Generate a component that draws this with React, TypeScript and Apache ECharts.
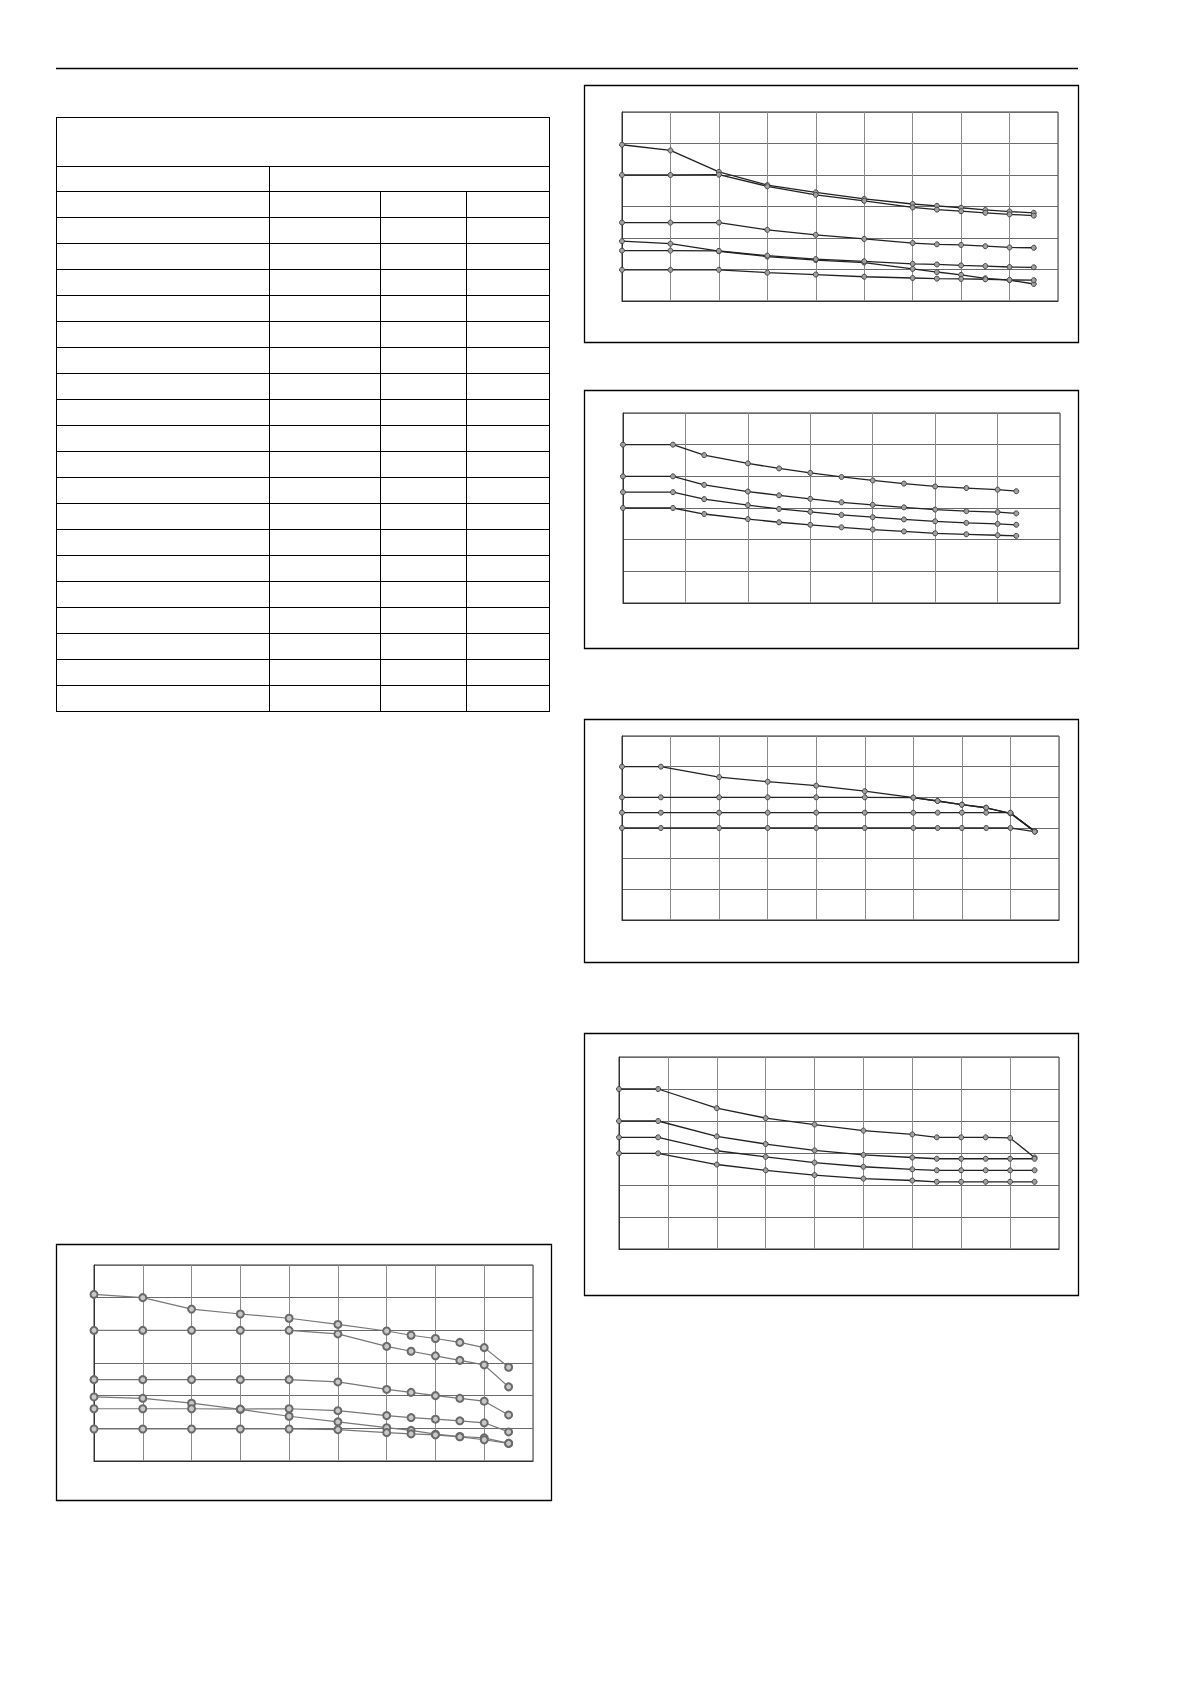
import { useEffect, useRef } from 'react';
import * as echarts from 'echarts';

// x positions (in grid units) of the measured points of each chart
const xTop = [0, 1, 2, 3, 4, 5, 6, 6.5, 7, 7.5, 8, 8.5];
const xSecond = [0, 0.8, 1.3, 2, 2.5, 3, 3.5, 4, 4.5, 5, 5.5, 6, 6.3];
const xThird = [0, 0.8, 2, 3, 4, 5, 6, 6.5, 7, 7.5, 8, 8.5];
const xFourth = [0, 0.8, 2, 3, 4, 5, 6, 6.5, 7, 7.5, 8, 8.5];
const xBottom = [0, 1, 2, 3, 4, 5, 6, 6.5, 7, 7.5, 8, 8.5];

// chart 1 (top right)
const top1 = [4.96, 4.78, 4.1, 3.68, 3.45, 3.24, 3.08, 3.02, 2.96, 2.89, 2.84, 2.8];
const top2 = [4.0, 4.0, 4.01, 3.64, 3.37, 3.18, 2.97, 2.9, 2.85, 2.8, 2.75, 2.71];
const top3 = [2.49, 2.49, 2.49, 2.26, 2.1, 1.97, 1.84, 1.8, 1.78, 1.74, 1.7, 1.69];
const top4 = [1.9, 1.82, 1.58, 1.41, 1.3, 1.22, 1.02, 0.92, 0.83, 0.72, 0.66, 0.54];
const top5 = [1.6, 1.6, 1.59, 1.44, 1.33, 1.26, 1.18, 1.16, 1.13, 1.11, 1.08, 1.07];
const top6 = [0.99, 0.99, 0.99, 0.9, 0.84, 0.77, 0.73, 0.71, 0.7, 0.69, 0.67, 0.66];

// chart 2
const second1 = [5.0, 5.0, 4.67, 4.41, 4.25, 4.11, 3.98, 3.87, 3.77, 3.68, 3.63, 3.58, 3.53];
const second2 = [4.0, 4.0, 3.73, 3.52, 3.4, 3.29, 3.18, 3.1, 3.02, 2.95, 2.9, 2.87, 2.83];
const second3 = [3.5, 3.5, 3.28, 3.09, 2.97, 2.88, 2.78, 2.71, 2.64, 2.58, 2.53, 2.5, 2.47];
const second4 = [3.0, 3.0, 2.81, 2.65, 2.55, 2.47, 2.39, 2.32, 2.26, 2.2, 2.17, 2.14, 2.12];

// chart 3
const third1 = [5.0, 5.0, 4.66, 4.51, 4.38, 4.2, 3.99, 3.88, 3.76, 3.66, 3.48, 2.89];
const third2 = [4.0, 4.0, 4.0, 4.0, 4.0, 4.0, 3.99, 3.88, 3.76, 3.66, 3.48, 2.89];
const third3 = [3.5, 3.5, 3.5, 3.5, 3.5, 3.5, 3.5, 3.5, 3.5, 3.5, 3.5, 2.89];
const third4 = [3.0, 3.0, 3.0, 3.0, 3.0, 3.0, 3.0, 3.0, 3.0, 3.0, 3.0, 2.88];

// chart 4
const fourth1 = [5.0, 5.0, 4.4, 4.09, 3.89, 3.7, 3.58, 3.49, 3.49, 3.49, 3.47, 2.86];
const fourth2 = [4.0, 4.0, 3.52, 3.28, 3.08, 2.94, 2.86, 2.82, 2.82, 2.82, 2.82, 2.82];
const fourth3 = [3.49, 3.49, 3.07, 2.88, 2.7, 2.57, 2.49, 2.46, 2.46, 2.46, 2.46, 2.46];
const fourth4 = [2.99, 2.99, 2.64, 2.46, 2.31, 2.2, 2.14, 2.1, 2.1, 2.1, 2.1, 2.1];

// chart 5 (bottom left)
const bottom1 = [5.1, 5.0, 4.65, 4.5, 4.37, 4.18, 3.98, 3.85, 3.75, 3.63, 3.47, 2.87];
const bottom2 = [4.0, 4.0, 4.0, 4.0, 4.0, 3.89, 3.51, 3.36, 3.22, 3.08, 2.94, 2.27];
const bottom3 = [2.49, 2.49, 2.49, 2.49, 2.49, 2.42, 2.19, 2.1, 2.0, 1.92, 1.83, 1.41];
const bottom4 = [1.96, 1.92, 1.77, 1.58, 1.37, 1.2, 1.02, 0.94, 0.82, 0.75, 0.71, 0.54];
const bottom5 = [1.6, 1.6, 1.6, 1.59, 1.6, 1.54, 1.39, 1.33, 1.28, 1.23, 1.17, 0.89];
const bottom6 = [0.98, 0.98, 0.98, 0.98, 0.98, 0.96, 0.87, 0.83, 0.8, 0.74, 0.65, 0.54];

const charts = [
  { xs: xTop, xMax: 9, lines: [top1, top2, top3, top4, top5, top6], light: false },
  { xs: xSecond, xMax: 7, lines: [second1, second2, second3, second4], light: false },
  { xs: xThird, xMax: 9, lines: [third1, third2, third3, third4], light: false },
  { xs: xFourth, xMax: 9, lines: [fourth1, fourth2, fourth3, fourth4], light: false },
  { xs: xBottom, xMax: 9, lines: [bottom1, bottom2, bottom3, bottom4, bottom5, bottom6], light: true },
];

// layout of the page (pixels)
const plotBoxes = [
  { left: 622, top: 112, width: 436, height: 189 },
  { left: 623, top: 413, width: 437, height: 190 },
  { left: 622, top: 736, width: 437, height: 184 },
  { left: 619, top: 1057, width: 440, height: 192 },
  { left: 94, top: 1265, width: 439, height: 196 },
];
const frames = [
  [584, 85, 494, 257],
  [584, 390, 494, 258],
  [584, 719, 494, 243],
  [584, 1033, 494, 262],
  [56, 1244, 495, 256],
];

const colWidths = [213, 111, 86, 83];
const tableRows = 20;

const cell: React.CSSProperties = { border: '1.5px solid #000', padding: 0 };

const App = () => {
  const chartRef = useRef<HTMLDivElement>(null);

  useEffect(() => {
    if (!chartRef.current) return;
    const chart = echarts.init(chartRef.current, null, { renderer: 'svg' });

    const grid = plotBoxes.map(b => ({
      ...b,
      show: true,
      borderColor: '#333',
      borderWidth: 1,
      backgroundColor: 'transparent',
    }));

    const xAxis = charts.map((c, i) => ({
      type: 'value' as const,
      gridIndex: i,
      min: 0,
      max: c.xMax,
      interval: 1,
      axisLabel: { show: false },
      axisTick: { show: false },
      axisLine: { lineStyle: { color: '#333' } },
      splitLine: { lineStyle: { color: '#8a8a8a', width: 1 } },
    }));
    const yAxis = charts.map((_, i) => ({
      type: 'value' as const,
      gridIndex: i,
      min: 0,
      max: 6,
      interval: 1,
      axisLabel: { show: false },
      axisTick: { show: false },
      axisLine: { lineStyle: { color: '#333' } },
      splitLine: { lineStyle: { color: '#6a6a6a', width: 1 } },
    }));

    const series: any[] = [];
    charts.forEach((c, i) => {
      c.lines.forEach(ys => {
        series.push({
          type: 'line',
          xAxisIndex: i,
          yAxisIndex: i,
          data: ys.map((y, k) => [c.xs[k], y]),
          symbol: 'circle',
          symbolSize: c.light ? 7 : 5,
          showSymbol: true,
          lineStyle: { color: c.light ? '#777' : '#222', width: c.light ? 1.2 : 1.3 },
          itemStyle: c.light
            ? { color: '#c8c8c8', borderColor: '#6a6a6a', borderWidth: 2 }
            : { color: '#a0a0a0', borderColor: '#444', borderWidth: 1 },
          silent: true,
        });
      });
    });

    const graphic: any[] = [
      { type: 'line', shape: { x1: 56, y1: 68.5, x2: 1078, y2: 68.5 }, style: { stroke: '#000', lineWidth: 1.3 } },
      ...frames.map(([x, y, w, h]) => ({
        type: 'rect',
        shape: { x: x + 0.5, y: y + 0.5, width: w, height: h },
        style: { fill: 'none', stroke: '#000', lineWidth: 1.3 },
      })),
    ];

    chart.setOption({
      animation: false,
      backgroundColor: '#fff',
      grid,
      xAxis,
      yAxis,
      series,
      graphic,
    });

    return () => chart.dispose();
  }, []);

  return (
    <div style={{ position: 'absolute', left: 0, top: 0, width: 1190, height: 1684 }}>
      <div ref={chartRef} style={{ position: 'absolute', left: 0, top: 0, width: 1190, height: 1684 }} />
      <table
        style={{
          position: 'absolute',
          left: 56,
          top: 117,
          width: 493,
          borderCollapse: 'collapse',
          tableLayout: 'fixed',
          background: '#fff',
        }}
      >
        <colgroup>
          {colWidths.map((w, i) => (
            <col key={i} style={{ width: w }} />
          ))}
        </colgroup>
        <tbody>
          <tr style={{ height: 49 }}>
            <td colSpan={4} style={cell} />
          </tr>
          <tr style={{ height: 25 }}>
            <td style={cell} />
            <td colSpan={3} style={cell} />
          </tr>
          {Array.from({ length: tableRows }).map((_, r) => (
            <tr key={r} style={{ height: 26 }}>
              {colWidths.map((_, c) => (
                <td key={c} style={cell} />
              ))}
            </tr>
          ))}
        </tbody>
      </table>
    </div>
  );
};

export default App;
